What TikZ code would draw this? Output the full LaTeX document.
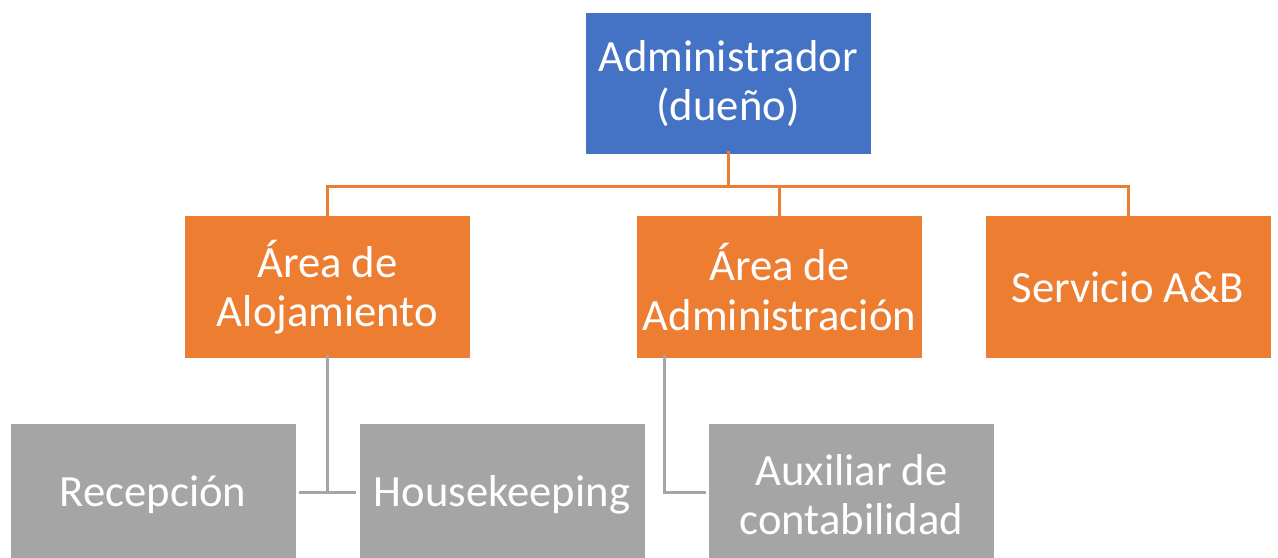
\documentclass[tikz,border=0pt]{standalone}
\usepackage{fontspec}
\setmainfont{Carlito}
\definecolor{boxblue}{RGB}{68,114,196}
\definecolor{boxorange}{RGB}{237,125,49}
\definecolor{boxgray}{RGB}{165,165,165}
\tikzset{every picture/.style={line width=0.75pt}}
\tikzset{
  orgbox/.style={rectangle, inner sep=0pt, text=white, align=center,
    minimum width=213.75pt, minimum height=106.5pt,
    font=\fontsize{33.5}{37}\selectfont},
  bluebox/.style={orgbox, fill=boxblue},
  orangebox/.style={orgbox, fill=boxorange},
  graybox/.style={orgbox, fill=boxgray},
  orangelink/.style={draw=boxorange, line width=2.25pt},
  graylink/.style={draw=boxgray, line width=2.25pt}
}

\begin{document}
\begin{tikzpicture}[x=0.75pt,y=0.75pt,yscale=-1,xscale=1]
\useasboundingbox (0,0) rectangle (1278,557);

%Shape: Rectangle [id:admin]
\node [bluebox, minimum height=105.75pt] (admin) at (728,83.5) {Administrador\\(dueño)};
%Shape: Rectangle [id:alojamiento]
\node [orangebox] (aloj) at (327.5,287) {Área de\\Alojamiento};
%Shape: Rectangle [id:administracion]
\node [orangebox] (adm) at (779.5,287) {Área de\\Administración};
%Shape: Rectangle [id:servicio]
\node [orangebox] (serv) at (1128,287) {Servicio A\&B};
%Shape: Rectangle [id:recepcion]
\node [graybox] (recep) at (153,494.5) {Recepción};
%Shape: Rectangle [id:housekeeping]
\node [graybox] (house) at (502,494.5) {Housekeeping};
%Shape: Rectangle [id:auxiliar]
\node [graybox] (aux) at (851.5,494.5) {Auxiliar de\\contabilidad};

%Straight Lines [id:toplinks]
\coordinate (hub) at (728,186);
\coordinate (hubL) at (327.5,186);
\coordinate (hubM) at (779.5,186);
\coordinate (hubR) at (1128,186);
\draw [orangelink] ([yshift=-3pt]admin.south) -- (hub);
\draw [orangelink, line cap=rect] (hubL) -- (hubR);
\draw [orangelink] (hubL) -- ([yshift=2pt]aloj.north);
\draw [orangelink] (hubM) -- ([yshift=2pt]adm.north);
\draw [orangelink] (hubR) -- ([yshift=2pt]serv.north);

%Straight Lines [id:graylinks]
\coordinate (jointA) at (327.5,492.5);
\coordinate (jointB) at (664,492.5);
\draw [graylink] ([yshift=-3pt]aloj.south) -- (jointA);
\draw [graylink] ([xshift=2.25pt]recep.east |- jointA) -- ([xshift=-2.25pt]house.west |- jointA);
\draw [graylink] ([yshift=-3pt]adm.south -| jointB) -- (jointB) -- ([xshift=-2.25pt]aux.west |- jointB);

\end{tikzpicture}
\end{document}
